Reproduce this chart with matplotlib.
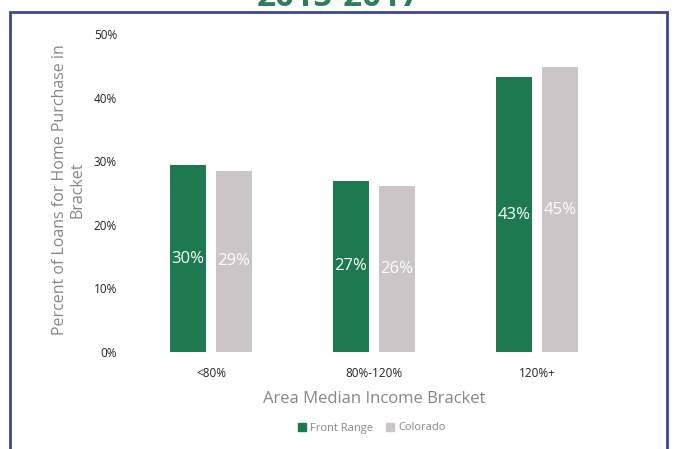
import matplotlib
matplotlib.use("Agg")
import matplotlib.pyplot as plt
from matplotlib.patches import Rectangle, Patch
import numpy as np

categories = ["<80%", "80%-120%", "120%+"]
front_range = [29.4, 26.9, 43.2]
colorado = [28.5, 26.1, 44.8]
front_labels = ["30%", "27%", "43%"]
colorado_labels = ["29%", "26%", "45%"]
yticks = [0, 10, 20, 30, 40, 50]
ytick_labels = ["0%", "10%", "20%", "30%", "40%", "50%"]

green = "#1d7a50"
grey = "#cbc5c8"
textgrey = "#8a8489"

plt.rcParams['font.family'] = ['Open Sans', 'DejaVu Sans']

fig = plt.figure(figsize=(6.76, 4.49), dpi=100)
W, H = 676, 449
ax = fig.add_axes([129.5 / W, 1 - 352 / H, 489 / W, (352 - 34) / H])

x = np.arange(len(categories))
bw = 0.22
off = 0.141
b1 = ax.bar(x - off, front_range, bw, color=green, label="Front Range")
b2 = ax.bar(x + off, colorado, bw, color=grey, label="Colorado")
for rect, lab in zip(b1, front_labels):
    ax.text(rect.get_x() + rect.get_width() / 2, rect.get_height() / 2, lab,
            ha="center", va="center", color="white", fontsize=12)
for rect, lab in zip(b2, colorado_labels):
    ax.text(rect.get_x() + rect.get_width() / 2, rect.get_height() / 2, lab,
            ha="center", va="center", color="white", fontsize=12)

ax.set_xlim(-0.5, 2.5)
ax.set_ylim(0, 50)
ax.set_yticks(yticks)
ax.set_yticklabels(ytick_labels, fontsize=8.5, color="#222222")
ax.set_xticks(x)
ax.set_xticklabels(categories, fontsize=8.5, color="#222222")
ax.tick_params(length=0)
ax.tick_params(axis='x', pad=11)
ax.tick_params(axis='y', pad=9)
for s in ax.spines.values():
    s.set_visible(False)

ax.set_xlabel("Area Median Income Bracket", fontsize=12, color=textgrey, labelpad=8)
fig.text(69 / W, 1 - 190 / H, "Percent of Loans for Home Purchase in\nBracket",
         rotation=90, ha="center", va="center", fontsize=11.5, color=textgrey,
         linespacing=1.15)

handles = [Patch(color=green, label="Front Range"), Patch(color=grey, label="Colorado")]
fig.legend(handles=handles, loc="center", bbox_to_anchor=(372 / W, 1 - 428 / H),
           ncol=2, frameon=False, fontsize=8, handlelength=0.7, handleheight=0.7,
           handletextpad=0.4, columnspacing=1.2, labelcolor=textgrey)

# border box
fig.patches.append(Rectangle((10 / W, -0.05), (667 - 10) / W, 1 - 12 / H + 0.05,
                             transform=fig.transFigure, fill=False,
                             edgecolor="#3b4a8c", linewidth=2))

fig.text(338 / W, 1 - 6 / H, "2015-2017", ha="center", va="baseline",
         fontsize=24, fontweight="bold", color="#2e7d5b")

fig.savefig("out.png", dpi=100)
